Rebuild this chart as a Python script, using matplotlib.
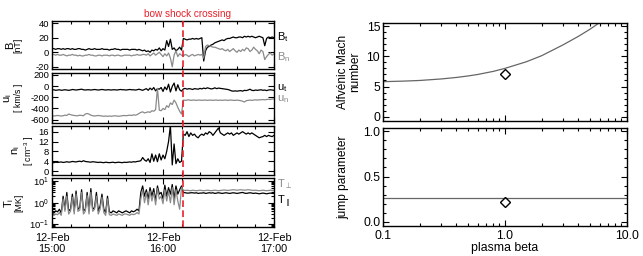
#!/usr/bin/env python3

import matplotlib.pyplot as plt
import matplotlib.ticker as mticker
from matplotlib.lines import Line2D
from matplotlib.transforms import blended_transform_factory
import numpy as np

plt.rcParams['font.family'] = ['Liberation Sans', 'DejaVu Sans']
plt.rcParams['axes.unicode_minus'] = False
plt.rcParams['mathtext.fontset'] = 'custom'
plt.rcParams['mathtext.rm'] = 'Liberation Sans'
plt.rcParams['mathtext.it'] = 'Liberation Sans'
plt.rcParams['mathtext.fallback'] = 'stixsans'
plt.rcParams['mathtext.default'] = 'regular'

# minutes after 12-Feb 15:00, one sample per minute
t_min = np.arange(121)
shock_time = 70.6
time_ticks = [0, 60, 120]
time_labels = ['12-Feb\n15:00', '12-Feb\n16:00', '12-Feb\n17:00']

B_t = [5, 5, 4, 5, 5, 4, 5, 4, 5, 5,
       4, 5, 4, 4, 5, 5, 4, 4, 3, 4,
       5, 4, 4, 5, 4, 4, 4, 5, 4, 4,
       4, 3, 4, 4, 5, 4, 4, 3, 4, 4,
       4, 4, 3, 4, 4, 4, 3, 4, 3, 2,
       3, 1, 2, 0, 3, 2, 4, 3, 6, 2,
       5, 3, 16, 8, 18, 4, 6, 2, 4, 7,
       3,
       19, 18, 17, 18, 18, 19, 18, 19, 18, 19,
       20, -12, 2, 7, 8, 10, 11, 13, 14, 15,
       16, 17, 16, 18, 19, 19, 20, 21, 20, 20,
       21, 21, 20, 22, 21, 22, 21, 22, 21, 20,
       21, 22, 21, 20, 9, 19, 21, 20, 21, 20]
B_n = [-3, -3, -4, -3, -4, -4, -3, -4, -5, -4,
       -4, -3, -4, -4, -5, -4, -5, -5, -4, -4,
       -3, -4, -4, -5, -5, -4, -4, -5, -4, -4,
       -4, -5, -4, -4, -5, -4, -4, -5, -5, -4,
       -4, -4, -4, -5, -4, -4, -3, -4, -4, -3,
       -3, -4, -2, -5, -3, -1, -4, -2, 0, -3,
       -6, -2, -5, -1, -8, -20, -4, 2, -6, -2,
       -4,
       -5, -3, -4, -6, -4, -3, -5, -4, -3, -4,
       -3, -8, 8, 10, 9, 8, 7, 7, 6, 5,
       4, 5, 3, 2, 4, 1, 3, 5, 2, 0,
       3, 1, 4, 2, 6, 5, 1, 3, 7, 4,
       2, -2, 3, 1, -10, -6, -3, -1, -4, -2]

u_t = [-70, -65, -75, -70, -65, -75, -70, -65, -70, -75,
       -70, -60, -65, -70, -65, -60, -55, -65, -70, -65,
       -65, -70, -65, -60, -65, -70, -65, -60, -65, -70,
       -65, -65, -70, -65, -65, -70, -65, -60, -65, -65,
       -70, -65, -60, -65, -65, -70, -65, -55, -65, -75,
       -60, -45, -75, -35, -65, -25, -85, -45, -55, -25,
       -95, -15, -65, 35, -105, -5, 55, -85, 25, -65,
       -90,
       -50, -40, -55, -45, -50, -60, -45, -50, -55, -40,
       -50, -35, -45, -30, -40, -50, -45, -30, -45, -35,
       -40, -45, -50, -55, -60, -70, -85, -90, -85, -90,
       -85, -80, -90, -75, -80, -70, -55, -75, -80, -70,
       -75, -70, -65, -75, -70, -80, -70, -65, -70, -75]
u_n = [-530, -535, -530, -525, -530, -535, -530, -520, -525, -500,
       -510, -520, -525, -530, -530, -520, -525, -530, -500, -490,
       -500, -520, -530, -535, -530, -525, -530, -535, -540, -535,
       -540, -535, -540, -535, -530, -535, -540, -535, -530, -525,
       -530, -525, -520, -525, -515, -520, -510, -490, -470, -460,
       -480, -470, -460, -470, -440, -450, -420, -40, -430, -440,
       -400, -420, -350, -380, -300, -330, -250, -300, -380, -450,
       -500,
       -250, -255, -250, -245, -255, -250, -250, -255, -250, -250,
       -255, -250, -250, -255, -250, -250, -255, -250, -250, -255,
       -250, -255, -250, -250, -255, -250, -250, -255, -255, -250,
       -255, -260, -270, -285, -260, -255, -250, -255, -250, -245,
       -250, -245, -245, -240, -245, -240, -235, -240, -230, -230]

n_i = [3.5, 3.4, 3.6, 3.5, 3.6, 3.7, 3.5, 3.6, 3.8, 3.6,
       3.7, 3.9, 3.8, 3.7, 3.9, 4.0, 3.8, 4.2, 3.9, 3.8,
       3.7, 3.6, 3.8, 3.7, 3.6, 3.5, 3.6, 3.5, 3.4, 3.6,
       3.5, 3.4, 3.5, 3.6, 3.4, 3.5, 3.6, 3.5, 3.4, 3.6,
       3.5, 3.6, 3.7, 3.6, 3.8, 3.7, 3.9, 4.0, 4.2, 5.5,
       4.5, 4.0, 5.0, 3.5, 7.0, 4.0, 6.5, 3.8, 7.0, 4.5,
       6.5, 5.0, 8.0, 12.0, 18.5, 2.5, 11.0, 3.0, 5.0, 3.5,
       4.0,
       15.0, 14.5, 16.0, 14.0, 15.5, 14.5, 15.0, 14.0, 13.5, 14.5,
       15.0, 14.5, 15.5, 15.0, 16.0, 15.5, 14.5, 15.5, 16.5, 17.5,
       15.5, 15.0, 14.5, 15.0, 15.5, 15.0, 15.5, 14.5, 15.0, 15.5,
       15.0, 15.5, 16.0, 15.5, 15.0, 15.5, 15.0, 15.5, 15.0, 14.5,
       14.0, 13.5, 13.8, 14.0, 14.5, 14.0, 14.5, 14.2, 14.0, 14.5]

T_par = [0.38, 0.33, 0.42, 0.38, 0.5, 0.33, 2.0, 0.5, 3.0, 0.42,
         0.5, 2.5, 0.42, 3.5, 0.5, 0.6, 4.0, 0.42, 0.5, 3.0,
         0.42, 4.5, 0.5, 0.6, 3.0, 0.42, 0.7, 2.5, 0.5, 0.35,
         2.0, 0.38, 0.34, 0.42, 0.38, 0.34, 0.42, 0.38, 0.34, 0.38,
         0.42, 0.38, 0.34, 0.42, 0.38, 0.42, 0.5, 0.42, 3.0, 6.0,
         2.0, 4.0, 1.5, 5.0, 2.0, 4.5, 1.2, 6.0, 2.5, 3.0,
         1.5, 6.5, 2.0, 5.0, 2.5, 7.0, 1.5, 6.0, 2.5, 4.0,
         6.0,
         3.0, 2.9, 2.8, 2.8, 2.9, 2.9, 2.8, 2.9, 2.7, 2.8,
         2.8, 2.9, 2.7, 2.8, 2.9, 2.8, 2.9, 2.7, 2.8, 2.9,
         2.8, 2.7, 2.8, 2.9, 2.8, 2.7, 2.8, 2.9, 2.8, 2.7,
         2.8, 2.9, 3.0, 2.8, 2.7, 2.8, 2.9, 2.8, 2.7, 2.8,
         2.7, 2.6, 2.7, 2.8, 2.7, 2.6, 2.7, 2.8, 2.7, 2.7]
T_perp = [0.3, 0.26, 0.3, 0.28, 0.35, 0.26, 1.5, 0.4, 2.0, 0.3,
          0.4, 1.8, 0.3, 2.5, 0.4, 0.45, 3.0, 0.3, 0.4, 2.2,
          0.3, 3.0, 0.4, 0.5, 2.0, 0.3, 0.5, 1.8, 0.35, 0.26,
          1.5, 0.28, 0.26, 0.3, 0.28, 0.26, 0.3, 0.28, 0.26, 0.3,
          0.3, 0.28, 0.26, 0.3, 0.28, 0.3, 0.35, 0.3, 1.5, 4.0,
          1.0, 3.0, 0.8, 3.5, 1.2, 3.0, 0.8, 4.5, 1.5, 2.0,
          0.9, 4.0, 1.2, 3.5, 1.0, 5.0, 0.8, 4.0, 1.2, 0.5,
          5.0,
          3.8, 3.7, 3.8, 3.7, 3.6, 3.8, 3.7, 3.6, 3.7, 3.8,
          3.7, 3.6, 3.7, 3.8, 3.7, 3.6, 3.7, 3.8, 3.7, 3.6,
          3.7, 3.8, 3.9, 3.8, 3.7, 3.8, 3.9, 4.0, 3.9, 3.8,
          3.9, 4.0, 3.9, 3.8, 3.9, 4.0, 3.9, 3.8, 3.7, 3.8,
          3.7, 3.6, 3.7, 3.8, 3.7, 3.6, 3.7, 3.8, 3.7, 3.7]

# right panels: model curves versus plasma beta, and the observed event
beta_model = [0.1, 0.15, 0.2, 0.3, 0.4, 0.5, 0.6, 0.8, 1.0, 1.5, 2.0, 3.0,
              4.0, 5.0, 6.0, 7.0, 8.0, 10.0]
mach_model = [5.8, 5.9, 6.0, 6.25, 6.5, 6.75, 7.0, 7.5, 8.0, 9.1, 10.1,
              11.9, 13.3, 14.5, 15.6, 16.6, 17.6, 19.5]
jump_model = [0.26] * len(beta_model)
beta_obs = [1.0]
mach_obs = [7.0]
jump_obs = [0.22]
beta_ticks = [0.1, 1.0, 10.0]
beta_labels = ['0.1', '1.0', '10.0']

GRAY = '#8a8a8a'
RED = '#e8202a'
W, H = 643, 256


def rect(x0, y0, x1, y1):
    return [x0 / W, 1 - y1 / H, (x1 - x0) / W, (y1 - y0) / H]


def style(ax, size):
    ax.tick_params(which='both', direction='in', top=True, right=True,
                   labelsize=size, width=0.8, pad=2)
    ax.tick_params(which='major', length=4)
    ax.tick_params(which='minor', length=2)
    for s in ax.spines.values():
        s.set_linewidth(1.0)


fig = plt.figure(figsize=(W / 100, H / 100), dpi=100)
axB = fig.add_axes(rect(52, 21, 274, 69))
axU = fig.add_axes(rect(52, 73, 274, 123))
axN = fig.add_axes(rect(52, 126, 274, 175))
axT = fig.add_axes(rect(52, 178, 274, 227))
axM = fig.add_axes(rect(383, 23, 627, 121))
axJ = fig.add_axes(rect(383, 128, 627, 226))

axB.plot(t_min, B_t, color='k', lw=0.9)
axB.plot(t_min, B_n, color=GRAY, lw=0.9)
axB.set_ylim(-23, 43)
axB.set_yticks([-20, 0, 20, 40])

axU.plot(t_min, u_t, color='k', lw=0.9)
axU.plot(t_min, u_n, color=GRAY, lw=0.9)
axU.set_ylim(-660, 235)
axU.set_yticks([-600, -400, -200, 0, 200])

axN.plot(t_min, n_i, color='k', lw=0.9)
axN.set_ylim(-1.6, 18.3)
axN.set_yticks([0, 4, 8, 12, 16])

axT.plot(t_min, T_par, color='k', lw=0.9)
axT.plot(t_min, T_perp, color=GRAY, lw=0.9)
axT.set_yscale('log')
axT.set_ylim(0.075, 14)
axT.yaxis.set_minor_locator(mticker.LogLocator(base=10,
                                               subs=np.arange(2, 10)))
axT.yaxis.set_minor_formatter(mticker.NullFormatter())

# (axis, symbol, unit, x of symbol, x of unit) in axes fractions
ylabels = [(axB, 'B', '[nT]', -0.19, -0.153),
           (axU, 'u$_i$', '[ km/s ]', -0.197, -0.153),
           (axN, 'n$_i$', '[ cm$^{-3}$ ]', -0.16, -0.105),
           (axT, 'T$_i$', '[MK]', -0.195, -0.148)]
for ax, sym, unit, xs, xu in ylabels:
    style(ax, 6.8)
    ax.tick_params(axis='x', labelsize=7.8)
    ax.set_xlim(0, 120)
    ax.set_xticks(time_ticks)
    ax.xaxis.set_minor_locator(mticker.MultipleLocator(10))
    ax.text(xs, 0.5, sym, rotation=90, ha='center', va='center',
            fontsize=8, transform=ax.transAxes)
    ax.text(xu, 0.5, unit, rotation=90, ha='center', va='center',
            fontsize=6.3, transform=ax.transAxes)
    if ax is axT:
        ax.set_xticklabels(time_labels)
        ax.tick_params(axis='x', pad=4)
    else:
        ax.tick_params(labelbottom=False)

side = [(axB, 'B$_t$', 'k', 0.67), (axB, 'B$_n$', GRAY, 0.25),
        (axU, 'u$_t$', 'k', 0.70), (axU, 'u$_n$', GRAY, 0.48),
        (axT, 'T$_{\\perp}$', GRAY, 0.88), (axT, 'T$_{\\parallel}$', 'k', 0.52)]
for ax, txt, col, yy in side:
    ax.text(1.015, yy, txt, color=col, fontsize=8, ha='left', va='center',
            transform=ax.transAxes)

# shock marker through all four time panels
tr = blended_transform_factory(axT.transData, fig.transFigure)
fig.add_artist(Line2D([shock_time, shock_time], [1 - 227 / H, 1 - 21 / H],
                      transform=tr, color=RED, lw=1.2,
                      linestyle=(0, (4, 2))))
fig.text(188 / W, 1 - 14 / H, 'bow shock crossing', color=RED,
         fontsize=7.2, ha='center', va='center')

axM.plot(beta_model, mach_model, color='#666666', lw=0.9)
axM.plot(beta_obs, mach_obs, 'D', mfc='none', mec='k', mew=1, ms=5)
axM.set_ylim(-0.7, 15.5)
axM.yaxis.set_major_locator(mticker.MultipleLocator(5))
axM.yaxis.set_minor_locator(mticker.MultipleLocator(1))
axM.text(-0.14, 0.5, 'Alfvénic Mach\nnumber', rotation=90, ha='center',
         va='center', fontsize=8.6, linespacing=1.0,
         transform=axM.transAxes)

axJ.plot(beta_model, jump_model, color='#666666', lw=0.9)
axJ.plot(beta_obs, jump_obs, 'D', mfc='none', mec='k', mew=1, ms=5)
axJ.set_ylim(-0.045, 1.035)
axJ.yaxis.set_major_locator(mticker.MultipleLocator(0.5))
axJ.yaxis.set_minor_locator(mticker.MultipleLocator(0.1))
axJ.yaxis.set_major_formatter(mticker.FormatStrFormatter('%.1f'))
axJ.text(-0.163, 0.5, 'jump parameter', rotation=90, ha='center',
         va='center', fontsize=8.6, transform=axJ.transAxes)
axJ.set_xlabel('plasma beta', fontsize=8.8, labelpad=0)

for ax in (axM, axJ):
    style(ax, 8.8)
    ax.set_xscale('log')
    ax.set_xlim(0.1, 10)
    ax.set_xticks(beta_ticks)
    ax.xaxis.set_minor_locator(
        mticker.LogLocator(base=10, subs=np.arange(2, 10)))
    ax.xaxis.set_minor_formatter(mticker.NullFormatter())
    ax.tick_params(axis='x', pad=3)
axJ.set_xticklabels(beta_labels)
axM.tick_params(labelbottom=False)

fig.savefig('out.png', dpi=100)
